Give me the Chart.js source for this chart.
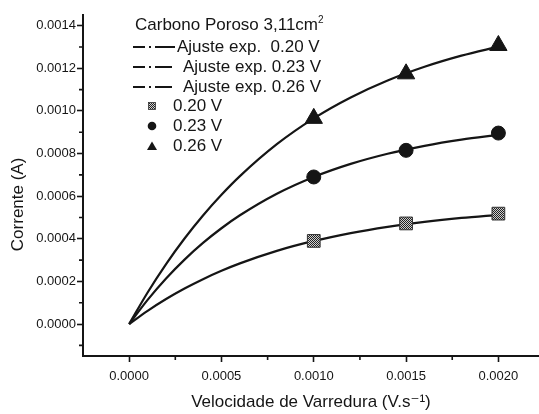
<!DOCTYPE html>
<html><head><meta charset="utf-8">
<script src="https://cdn.jsdelivr.net/npm/chart.js@4"></script>
<style>
html,body{margin:0;padding:0;background:#fff;overflow:hidden}
#wrap{position:relative;width:539px;height:414px;overflow:hidden}
#c{position:absolute;left:0;top:0}
.lg{position:absolute;height:20px;line-height:20px;white-space:pre;font-family:'Liberation Sans',Arial,sans-serif;font-size:17px;color:#151515}
.lg sup{font-size:10px;line-height:0;vertical-align:7px}
svg.s{position:absolute}
</style>
</head><body>
<div id="wrap">
<canvas id="c" width="550" height="414"></canvas>
<div class="lg" style="left:135px;top:15px">Carbono Poroso 3,11cm<sup>2</sup></div>
<svg class="s" style="left:133px;top:37px" width="44" height="20"><line x1="0" y1="10" x2="42" y2="10" stroke="#151515" stroke-width="2.2" stroke-dasharray="12 4 2 4 20"/></svg>
<div class="lg" style="left:177px;top:37px">Ajuste exp.  0.20 V</div>
<svg class="s" style="left:133px;top:57px" width="44" height="20"><line x1="0" y1="10" x2="39" y2="10" stroke="#151515" stroke-width="2.2" stroke-dasharray="12 4 2 4 17"/></svg>
<div class="lg" style="left:183px;top:57px">Ajuste exp. 0.23 V</div>
<svg class="s" style="left:133px;top:77px" width="44" height="20"><line x1="0" y1="10" x2="39" y2="10" stroke="#151515" stroke-width="2.2" stroke-dasharray="12 4 2 4 17"/></svg>
<div class="lg" style="left:183px;top:77px">Ajuste exp. 0.26 V</div>
<svg class="s" style="left:145px;top:99px" width="14" height="14">
<defs><pattern id="chk" width="2" height="2" patternUnits="userSpaceOnUse"><rect width="2" height="2" fill="#d0d0d0"/><rect width="1" height="1" fill="#222"/><rect x="1" y="1" width="1" height="1" fill="#222"/></pattern></defs>
<rect x="3.5" y="3.5" width="7" height="7" fill="url(#chk)" stroke="#333" stroke-width="0.8"/></svg>
<div class="lg" style="left:173px;top:96px">0.20 V</div>
<svg class="s" style="left:145px;top:119px" width="14" height="14"><circle cx="7" cy="7" r="4.3" fill="#151515"/></svg>
<div class="lg" style="left:173px;top:116px">0.23 V</div>
<svg class="s" style="left:145px;top:139px" width="14" height="14"><polygon points="7,2.5 12,11 2,11" fill="#151515"/></svg>
<div class="lg" style="left:173px;top:136px">0.26 V</div>
</div>
<script>
// Fit curves
const fitX   = [0, 0.0001, 0.0002, 0.0003, 0.0004, 0.0005, 0.0006, 0.0008, 0.0010, 0.0012, 0.0014, 0.0016, 0.0018, 0.0020];
const fit020 = [0, 0.0000621, 0.0001174, 0.0001667, 0.0002106, 0.0002498, 0.0002846, 0.0003433, 0.0003899, 0.0004269, 0.0004562, 0.0004795, 0.0004980, 0.0005126];
const fit023 = [0, 0.0001136, 0.0002139, 0.0003024, 0.0003805, 0.0004494, 0.0005102, 0.0006113, 0.0006900, 0.0007513, 0.0007989, 0.0008362, 0.0008651, 0.0008876];
const fit026 = [0, 0.0001481, 0.0002813, 0.0004013, 0.0005094, 0.0006064, 0.0006939, 0.0008436, 0.0009648, 0.0010629, 0.0011425, 0.0012069, 0.0012591, 0.0013015];
// Measured points
const scanRates = [0.0010, 0.0015, 0.0020];
const cur020 = [0.00039, 0.000472, 0.000518];
const cur023 = [0.00069, 0.000815, 0.000896];
const cur026 = [0.000965, 0.001174, 0.001307];
// Ticks
const xTicks = [0, 0.0005, 0.0010, 0.0015, 0.0020];
const xMinor = [0.00025, 0.00075, 0.00125, 0.00175];
const yTicks = [0, 0.0002, 0.0004, 0.0006, 0.0008, 0.0010, 0.0012, 0.0014];
const yMinor = [-0.0001, 0.0001, 0.0003, 0.0005, 0.0007, 0.0009, 0.0011, 0.0013];

const toXY = (xs, ys) => xs.map((x, i) => ({x: x, y: ys[i]}));

const pc = document.createElement('canvas'); pc.width = 2; pc.height = 2;
const pctx = pc.getContext('2d');
pctx.fillStyle = '#cfcfcf'; pctx.fillRect(0,0,2,2);
pctx.fillStyle = '#222'; pctx.fillRect(0,0,1,1); pctx.fillRect(1,1,1,1);
const checker = pctx.createPattern(pc, 'repeat');

const INK = '#151515';
const FONT = "'Liberation Sans', Arial, 'DejaVu Sans', sans-serif";

const minorTicks = {
  id: 'minorTicks',
  afterDraw(chart) {
    const {ctx, chartArea, scales} = chart;
    ctx.save();
    ctx.strokeStyle = INK; ctx.lineWidth = 1.6;
    ctx.beginPath();
    xMinor.forEach(v => { const p = scales.x.getPixelForValue(v); ctx.moveTo(p, chartArea.bottom); ctx.lineTo(p, chartArea.bottom + 4); });
    yMinor.forEach(v => { const p = scales.y.getPixelForValue(v); ctx.moveTo(chartArea.left, p); ctx.lineTo(chartArea.left - 4, p); });
    ctx.stroke();
    ctx.restore();
  }
};

const lineDs = (data) => ({type: 'line', data: data, showLine: true, borderColor: INK, borderWidth: 2.2, pointRadius: 0, fill: false, cubicInterpolationMode: 'monotone', order: 2});

new Chart(document.getElementById('c'), {
  type: 'scatter',
  data: {
    datasets: [
      {label: '0.20 V', data: toXY(scanRates, cur020), pointStyle: 'rect', pointRadius: 9, backgroundColor: checker, borderColor: '#333', borderWidth: 1, order: 1},
      {label: '0.23 V', data: toXY(scanRates, cur023), pointStyle: 'circle', pointRadius: 7, backgroundColor: INK, borderColor: INK, borderWidth: 1, order: 1},
      {label: '0.26 V', data: toXY(scanRates, cur026), pointStyle: 'triangle', pointRadius: 10, backgroundColor: INK, borderColor: INK, borderWidth: 1, order: 1},
      Object.assign(lineDs(toXY(fitX, fit020)), {label: 'Ajuste exp. 0.20 V'}),
      Object.assign(lineDs(toXY(fitX, fit023)), {label: 'Ajuste exp. 0.23 V'}),
      Object.assign(lineDs(toXY(fitX, fit026)), {label: 'Ajuste exp. 0.26 V'})
    ]
  },
  options: {
    responsive: false,
    animation: false,
    devicePixelRatio: 1,
    layout: {padding: {top: 15, right: 0, bottom: 0, left: 0}},
    plugins: {legend: {display: false}, tooltip: {enabled: false}},
    scales: {
      x: {
        type: 'linear', min: -0.00025, max: 0.00222,
        afterBuildTicks: s => { s.ticks = xTicks.map(v => ({value: v})); },
        afterFit: s => { s.height = 58; s.paddingRight = 0; s.paddingLeft = 0; },
        ticks: {callback: v => v.toFixed(4), color: INK, font: {family: FONT, size: 13}, padding: 7, maxRotation: 0, autoSkip: false},
        grid: {drawOnChartArea: false, drawTicks: true, tickLength: 6, color: INK, tickWidth: 1.6},
        border: {display: true, color: INK, width: 2},
        title: {display: true, text: 'Velocidade de Varredura (V.s⁻¹)', color: INK, font: {family: FONT, size: 17}, padding: {top: 0, bottom: 1}}
      },
      y: {
        type: 'linear', min: -0.00015, max: 0.00145,
        afterBuildTicks: s => { s.ticks = yTicks.map(v => ({value: v})); },
        afterFit: s => { s.width = 83; },
        ticks: {callback: v => v.toFixed(4), color: INK, font: {family: FONT, size: 13}, padding: 1, autoSkip: false},
        grid: {drawOnChartArea: false, drawTicks: true, tickLength: 6, color: INK, tickWidth: 1.6},
        border: {display: true, color: INK, width: 2},
        title: {display: true, text: 'Corrente (A)        ', color: INK, font: {family: FONT, size: 17}, padding: {top: 8, bottom: 0}}
      }
    }
  },
  plugins: [minorTicks]
});
</script>
</body></html>
